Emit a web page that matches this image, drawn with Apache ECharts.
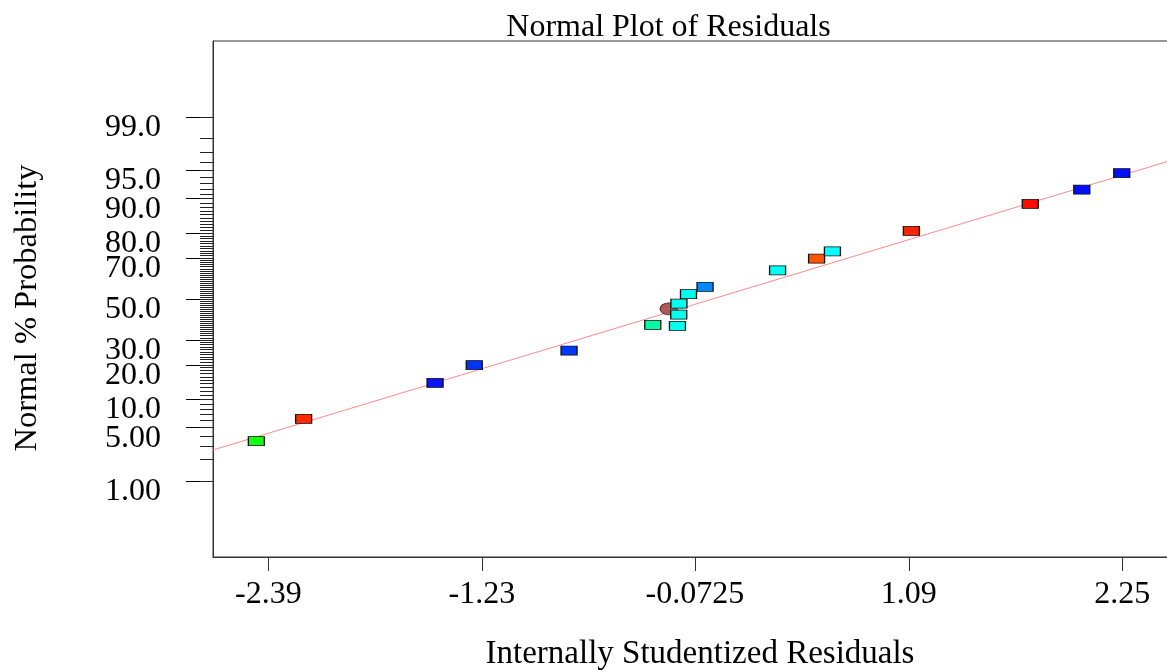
<!DOCTYPE html>
<html>
<head>
<meta charset="utf-8">
<script src="https://cdn.jsdelivr.net/npm/echarts@6/dist/echarts.min.js"></script>
<style>
html,body{margin:0;padding:0;background:#fff;}
#c{width:1167px;height:670px;}
</style>
</head>
<body>
<div id="c"></div>
<script>
// ---------------- data ----------------
const chartTitle = 'Normal Plot of Residuals';
const xAxisTitle = 'Internally Studentized Residuals';
const yAxisTitle = 'Normal % Probability';

// residual (x) and normal % probability (y) of each run
const residuals     = [-2.455, -2.198, -1.484, -1.271, -0.756, -0.301, -0.167, -0.160, -0.159, -0.107, -0.017, 0.377, 0.589, 0.675, 1.104, 1.750, 2.030, 2.247];
const probabilities = [ 3.46,   6.29,  14.2,   19.9,   25.5,   37.1,   36.6,   42.1,   47.6,   52.5,   56.2,  64.3,  69.7,  72.9,  80.8,  88.8,  91.9,  94.6];
const pointColors   = ['#11ff11','#ff2a00','#0a14ff','#0033ff','#0038ff','#00ffa0','#00ffee','#00ffee','#00ffee','#00ffe8','#0088ff','#00ffee','#ff5500','#00ffff','#ff2200','#ff0a00','#0010ff','#0010ff'];

// one run drawn as an ellipse (partly hidden behind others)
const ellipseResidual    = [-0.215];
const ellipseProbability = [45.0];

// fitted normal line, end points (residual, %)
const fitLineResidual    = [-2.6905, 2.6015];
const fitLineProbability = [2.68, 96.66];

// tick labels
const xTickValues = [-2.39, -1.23, -0.0725, 1.09, 2.25];
const xTickLabels = ['-2.39', '-1.23', '-0.0725', '1.09', '2.25'];
const yMajorProbs  = [1, 5, 10, 20, 30, 50, 70, 80, 90, 95, 99];
const yMajorLabels = ['1.00', '5.00', '10.0', '20.0', '30.0', '50.0', '70.0', '80.0', '90.0', '95.0', '99.0'];
const yMinorFrom = 1, yMinorTo = 99;   // minor tick every 1 %

// ---------------- normal quantile (probability scale) ----------------
function normInv(p) {
  const a = [-3.969683028665376e+01, 2.209460984245205e+02, -2.759285104469687e+02, 1.383577518672690e+02, -3.066479806614716e+01, 2.506628277459239e+00];
  const b = [-5.447609879822406e+01, 1.615858368580409e+02, -1.556989798598866e+02, 6.680131188771972e+01, -1.328068155288572e+01];
  const c = [-7.784894002430293e-03, -3.223964580411365e-01, -2.400758277161838e+00, -2.549732539343734e+00, 4.374664141464968e+00, 2.938163982698783e+00];
  const d = [7.784695709041462e-03, 3.224671290700398e-01, 2.445134137142996e+00, 3.754408661907416e+00];
  const pl = 0.02425, ph = 1 - pl;
  let q, r;
  if (p < pl) {
    q = Math.sqrt(-2 * Math.log(p));
    return (((((c[0]*q+c[1])*q+c[2])*q+c[3])*q+c[4])*q+c[5]) / ((((d[0]*q+d[1])*q+d[2])*q+d[3])*q+1);
  } else if (p <= ph) {
    q = p - 0.5; r = q * q;
    return (((((a[0]*r+a[1])*r+a[2])*r+a[3])*r+a[4])*r+a[5])*q / (((((b[0]*r+b[1])*r+b[2])*r+b[3])*r+b[4])*r+1);
  } else {
    q = Math.sqrt(-2 * Math.log(1 - p));
    return -(((((c[0]*q+c[1])*q+c[2])*q+c[3])*q+c[4])*q+c[5]) / ((((d[0]*q+d[1])*q+d[2])*q+d[3])*q+1);
  }
}
const zOf = pct => normInv(pct / 100);

const majorZ = yMajorProbs.map(zOf);
const minorZ = [];
for (let p = yMinorFrom; p <= yMinorTo; p++) minorZ.push(zOf(p));

function yLabel(v) {
  let best = 0, bd = Infinity;
  majorZ.forEach((z, i) => { const d = Math.abs(z - v); if (d < bd) { bd = d; best = i; } });
  return yMajorLabels[best];
}
function xLabel(v) {
  let best = 0, bd = Infinity;
  xTickValues.forEach((t, i) => { const d = Math.abs(t - v); if (d < bd) { bd = d; best = i; } });
  return xTickLabels[best];
}

const pointData = residuals.map((r, i) => ({
  value: [r, zOf(probabilities[i])],
  itemStyle: { color: pointColors[i] }
}));
const ellipseData = ellipseResidual.map((r, i) => [r, zOf(ellipseProbability[i])]);
const lineData = fitLineResidual.map((r, i) => [r, zOf(fitLineProbability[i])]);

// ---------------- chart ----------------
const FONT = '"Liberation Serif", "Times New Roman", serif';
const chart = echarts.init(document.getElementById('c'), null, { renderer: 'canvas' });
const zLim = 3.2975;

chart.setOption({
  animation: false,
  backgroundColor: '#ffffff',
  graphic: [{
    type: 'text',
    x: 668.5, y: 12,
    style: { text: chartTitle, align: 'center', verticalAlign: 'top', font: '32px ' + FONT, fill: '#000' }
  }, {
    type: 'text',
    x: 27, y: 308,
    rotation: Math.PI / 2,
    style: { text: yAxisTitle, align: 'center', verticalAlign: 'middle', font: '32.5px ' + FONT, fill: '#000' }
  }],
  grid: {
    left: 213, top: 41, width: 974, bottom: 113,
    show: true, borderColor: '#333', borderWidth: 1,
    containLabel: false, outerBoundsMode: 'none'
  },
  xAxis: {
    type: 'value',
    min: -2.6905, max: 2.6015,
    name: xAxisTitle,
    nameLocation: 'middle',
    nameGap: 81,
    nameTextStyle: { fontFamily: FONT, fontSize: 33, color: '#000' },
    axisLine: { show: true, onZero: false, lineStyle: { color: '#333', width: 1 } },
    axisTick: { show: true, inside: false, length: 14, customValues: xTickValues, lineStyle: { color: '#333', width: 1 } },
    axisLabel: { show: true, customValues: xTickValues, formatter: xLabel, margin: 22, fontFamily: FONT, fontSize: 32, color: '#000' },
    splitLine: { show: false }
  },
  yAxis: [{
    type: 'value',
    min: -zLim, max: zLim,
    position: 'left',
    axisLine: { show: true, onZero: false, lineStyle: { color: '#333', width: 1 } },
    axisTick: { show: true, inside: false, length: 27, customValues: majorZ, lineStyle: { color: '#000', width: 1 } },
    axisLabel: { show: true, customValues: majorZ, formatter: yLabel, margin: 52, fontFamily: FONT, fontSize: 32, color: '#000',
                 verticalAlign: 'top', lineHeight: 21, hideOverlap: false },
    splitLine: { show: false }
  }, {
    type: 'value',
    min: -zLim, max: zLim,
    position: 'left',
    offset: 0,
    axisLine: { show: false, onZero: false },
    axisTick: { show: true, inside: false, length: 13, customValues: minorZ, lineStyle: { color: '#222', width: 1 } },
    axisLabel: { show: false },
    splitLine: { show: false }
  }],
  series: [{
    type: 'line',
    data: lineData,
    showSymbol: false,
    symbol: 'none',
    clip: true,
    lineStyle: { color: '#ff8a8a', width: 1 },
    silent: true,
    z: 2
  }, {
    type: 'scatter',
    data: ellipseData,
    symbol: 'circle',
    symbolSize: [17, 12],
    itemStyle: { color: '#b05858', borderColor: '#5a2a2a', borderWidth: 1, opacity: 1 },
    z: 3
  }, {
    type: 'scatter',
    data: pointData,
    symbol: 'rect',
    symbolSize: [16, 9],
    itemStyle: { borderColor: '#111', borderWidth: 1, opacity: 1 },
    z: 4
  }]
});
</script>
</body>
</html>
